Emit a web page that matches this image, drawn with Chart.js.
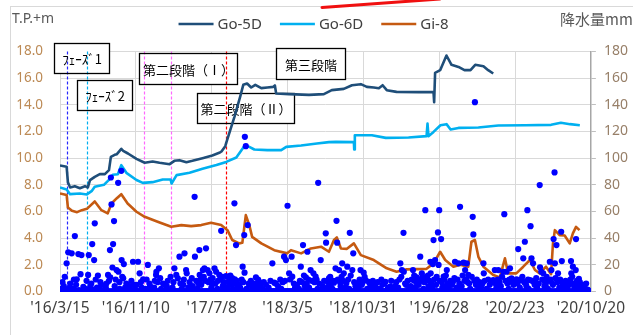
<!DOCTYPE html>
<html>
<head>
<meta charset="utf-8">
<script src="https://cdn.jsdelivr.net/npm/chart.js@4.4.0/dist/chart.umd.min.js"></script>
<style>
  html, body { margin: 0; padding: 0; background: #fff; }
</style>
</head>
<body>
<canvas id="chart" width="633" height="335"></canvas>
<script>
// x values are days counted from 2016-03-15, one tick every 240 days
const dayStep = 240;
const dateTicks = ["'16/3/15", "'16/11/10", "'17/7/8", "'18/3/5", "'18/10/31", "'19/6/28", "'20/2/23", "'20/10/20"];

// Groundwater level, T.P.+m  [day, level]
const go5d = [[0,9.45],[21,9.35],[25,8.2],[32,7.8],[47,7.9],[63,7.75],[79,7.9],[88,7.8],[95,8.35],[110,8.6],[126,8.8],[142,8.8],[155,9.1],[161,10.1],[173,10.25],[180,10.3],[194,10.7],[200,10.55],[215,10.35],[242,9.95],[268,9.66],[293,9.75],[315,9.65],[347,9.55],[362,9.8],[378,9.85],[400,9.7],[419,9.8],[451,10.0],[482,10.2],[504,10.4],[511,10.5],[523,10.9],[526,11.15],[552,13.1],[570,14.6],[580,15.5],[592,15.6],[605,15.3],[618,15.5],[637,15.25],[656,15.3],[675,15.35],[680,15.45],[684,14.85],[725,14.8],[788,14.75],[835,14.8],[860,15.1],[898,15.2],[924,15.47],[952,15.55],[971,15.35],[993,15.3],[1009,15.25],[1021,15.47],[1034,15.1],[1065,14.97],[1135,14.95],[1182,14.95],[1184,14.2],[1187,16.4],[1203,16.6],[1223,17.7],[1239,17.0],[1261,16.84],[1280,16.6],[1299,16.6],[1314,17.0],[1340,16.9],[1355,16.6],[1371,16.35]];
const go6d = [[0,7.8],[21,7.65],[32,7.3],[63,7.35],[85,7.28],[101,7.55],[110,7.86],[139,8.0],[158,8.45],[167,8.75],[183,8.8],[194,9.48],[210,8.9],[242,8.36],[262,8.15],[293,8.2],[325,8.4],[350,8.4],[353,8.1],[369,8.73],[410,8.9],[451,9.2],[495,9.48],[526,9.72],[558,10.05],[583,10.9],[599,10.85],[615,10.65],[656,10.6],[700,10.6],[716,10.85],[763,10.95],[813,11.1],[851,11.2],[873,11.22],[930,11.2],[931,10.65],[933,11.72],[987,11.72],[1031,11.52],[1103,11.55],[1160,11.65],[1163,12.6],[1166,11.65],[1182,11.97],[1204,12.47],[1223,12.55],[1236,12.15],[1261,12.27],[1324,12.3],[1387,12.45],[1472,12.47],[1554,12.5],[1585,12.65],[1614,12.55],[1645,12.47]];
const gi8 = [[0,7.35],[21,7.23],[25,6.3],[38,6.05],[54,5.95],[69,6.1],[85,6.2],[110,6.75],[131,6.1],[151,5.86],[163,6.6],[179,6.98],[194,7.3],[214,6.6],[242,5.98],[268,5.6],[309,5.23],[352,4.85],[384,4.98],[415,4.9],[447,4.98],[478,5.15],[510,4.98],[530,4.6],[545,3.86],[567,3.61],[577,3.65],[588,5.73],[599,4.98],[608,4.1],[637,3.61],[678,3.1],[719,2.86],[731,3.1],[763,2.86],[794,3.23],[826,3.36],[851,2.98],[867,3.86],[876,4.06],[889,3.23],[908,3.2],[930,3.61],[952,2.73],[993,2.36],[1034,1.74],[1065,1.48],[1097,1.66],[1160,1.7],[1182,2.11],[1203,2.98],[1219,2.36],[1245,1.86],[1266,2.0],[1292,1.86],[1302,3.73],[1313,3.86],[1324,2.6],[1340,1.86],[1371,1.24],[1392,1.06],[1408,2.49],[1418,1.36],[1444,1.36],[1466,1.86],[1487,2.36],[1503,1.61],[1518,1.36],[1538,1.86],[1554,1.3],[1560,3.61],[1566,4.6],[1581,4.23],[1597,4.2],[1613,3.61],[1623,4.36],[1633,4.85],[1644,4.6]];

// Daily rainfall, mm  [day, mm]; days not listed had no rain
const rainEvents = [[21,21.1],[26,29.4],[37,28.6],[47,41.6],[53,9.1],[58,28.1],[68,27.3],[89,12.4],[91,27.3],[102,35.6],[108,23.6],[110,51.1],[152,12.4],[158,31.1],[159,10.6],[161,85.5],[163,65.3],[168,35.6],[171,52.8],[179,16.1],[184,81.5],[185,14.8],[194,90.5],[195,23.6],[200,9.9],[202,20.6],[231,22.3],[247,22.3],[252,13.6],[263,9.1],[278,19.9],[304,12.4],[305,14.8],[313,17.4],[331,5.6],[362,17.4],[368,12.4],[373,9.9],[378,26.1],[394,28.6],[399,16.1],[401,13.6],[426,71],[427,26.1],[441,31.1],[442,12.4],[452,16.1],[457,17.4],[462,32.4],[467,16.1],[473,13.6],[489,17.4],[494,14.8],[504,12.4],[510,45.5],[525,11.6],[536,8.6],[545,10.1],[552,66.1],[553,9.1],[557,34.8],[578,18.6],[583,42.3],[584,14.1],[585,116],[588,109],[594,49.8],[620,10.6],[630,7.3],[672,21.1],[678,6.6],[709,26.1],[715,23.6],[720,64.3],[725,13.6],[733,26.1],[735,11.1],[762,18.6],[769,34.8],[778,10.6],[783,29.8],[793,16.1],[802,13.6],[809,11.1],[817,81.5],[825,23.6],[841,43.6],[842,36.6],[851,9.9],[867,6.6],[872,17.4],[875,53],[877,36.6],[883,16.1],[893,21.1],[898,13.6],[909,18.6],[917,44],[925,16.1],[928,28.6],[951,16.1],[961,14.1],[967,8.6],[977,7.3],[993,6.1],[1030,7.3],[1045,3.6],[1077,21.1],[1082,16.1],[1087,44],[1088,14.8],[1117,16.1],[1119,8.6],[1129,10.6],[1140,26.1],[1145,13.6],[1156,61],[1161,9.9],[1172,22.3],[1173,13.6],[1180,20.6],[1182,38.6],[1187,23.6],[1196,44.3],[1198,19.9],[1200,61],[1206,39.3],[1214,11.1],[1224,16.1],[1250,22.3],[1261,21.1],[1266,63.5],[1277,21.6],[1282,16.1],[1287,21.1],[1292,12.4],[1306,56],[1308,42.8],[1313,142],[1340,21.1],[1341,13.6],[1371,8.6],[1376,16.1],[1387,16.1],[1403,14.8],[1406,58],[1413,14.8],[1424,17.4],[1429,9.9],[1445,9.1],[1450,31.8],[1460,8.6],[1466,24.9],[1471,37.3],[1479,61],[1487,8.6],[1489,49],[1492,24.9],[1497,21.1],[1518,79.8],[1519,18.1],[1523,14.8],[1529,13.6],[1537,4.9],[1550,22.3],[1555,16.1],[1562,39.3],[1565,89.3],[1566,21.1],[1571,34.8],[1576,13.6],[1586,44.8],[1588,22.8],[1597,3.6],[1617,22.8],[1618,13.6],[1623,18.6],[1632,16.1],[1633,39.3],[1642,9.4]];
const rainLight = [[5,2],[12,4],[17,1.5],[30,3],[42,2],[51,5],[60,1],[74,3.5],[80,2],[96,4],[104,1.5],[117,3],[124,2.5],[131,5],[138,1],[145,3],[173,4],[189,2],[206,3],[214,1.5],[221,4],[237,2],[242,5],[258,3],[270,2],[285,4],[292,1.5],[298,3],[320,2],[338,4],[345,1],[356,3],[385,2],[390,5],[406,3],[414,1.5],[420,4],[435,2],[447,5],[479,3],[484,6],[498,2],[515,4],[520,7],[530,3],[541,5],[548,2],[563,4],[570,3],[590,2],[600,5],[611,3],[625,4],[640,2],[652,5],[660,3],[690,4],[700,2],[744,3],[750,5],[756,2],[775,4],[788,3],[815,2],[831,4],[846,3],[857,5],[862,2],[888,4],[903,3],[915,2],[935,4],[944,3],[955,5],[972,2],[985,4],[1000,3],[1012,2],[1020,5],[1038,3],[1052,2],[1060,4],[1070,3],[1095,5],[1105,2],[1110,4],[1124,3],[1135,5],[1150,2],[1166,4],[1177,3],[1190,5],[1210,3],[1219,4],[1230,2],[1240,5],[1255,3],[1271,4],[1298,2],[1316,5],[1325,3],[1333,4],[1350,2],[1360,5],[1381,3],[1395,4],[1420,2],[1435,5],[1455,3],[1476,4],[1483,2],[1502,5],[1510,3],[1533,4],[1544,2],[1560,5],[1580,3],[1592,4],[1605,2],[1612,5],[1628,3],[1638,4],[1650,2],[1660,3],[1670,1.5]];
const rainModerate = [[8,7],[15,11],[33,6],[44,9],[65,13],[84,8],[99,6],[113,9],[120,12],[128,7],[147,6],[155,8],[166,18],[176,9],[188,7],[197,11],[210,6],[226,8],[235,5],[256,7],[274,9],[283,6],[300,8],[309,7],[317,10],[326,6],[341,8],[350,11],[359,7],[381,6],[392,9],[410,7],[417,10],[431,8],[438,6],[445,9],[455,11],[460,8],[470,7],[476,9],[483,10],[492,6],[500,8],[507,9],[513,11],[518,6],[533,7],[539,12],[550,6],[560,8],[566,5],[575,9],[580,7],[597,6],[604,8],[616,6],[627,9],[635,5],[645,7],[666,8],[683,6],[697,9],[705,7],[712,8],[728,9],[740,6],[759,8],[766,7],[772,12],[781,6],[786,9],[797,8],[805,7],[812,9],[820,6],[836,8],[848,7],[855,11],[865,8],[879,9],[886,7],[891,11],[896,8],[906,6],[912,9],[920,12],[931,7],[940,6],[948,9],[958,7],[964,11],[980,6],[990,8],[1005,7],[1017,9],[1025,6],[1048,8],[1064,7],[1074,9],[1080,11],[1092,6],[1100,8],[1113,9],[1121,12],[1127,7],[1133,6],[1138,9],[1143,8],[1148,11],[1153,7],[1158,9],[1164,12],[1169,8],[1175,6],[1184,9],[1192,11],[1202,8],[1208,7],[1216,9],[1221,12],[1227,6],[1235,8],[1243,7],[1248,10],[1258,9],[1264,6],[1274,12],[1280,8],[1285,9],[1290,7],[1295,6],[1303,11],[1311,8],[1319,9],[1328,7],[1337,6],[1344,8],[1355,9],[1365,7],[1378,6],[1385,9],[1391,7],[1399,11],[1410,8],[1416,6],[1422,9],[1432,7],[1441,8],[1448,6],[1458,9],[1463,11],[1469,7],[1474,6],[1481,9],[1494,8],[1500,7],[1507,10],[1515,6],[1526,9],[1535,7],[1540,11],[1547,8],[1553,9],[1558,6],[1568,10],[1574,7],[1583,9],[1590,6],[1600,8],[1608,7],[1615,9],[1621,11],[1626,6],[1636,8],[1645,7],[1655,5],[1665,6]];
const rainLastDay = 1678;

// Construction stage markers (day) and their label boxes (day / level corners)
const stageLines = [
  { day: 21, color: '#2828FF' },
  { day: 87, color: '#00B0F0' },
  { day: 266, color: '#FF66FF' },
  { day: 352, color: '#FF66FF' },
  { day: 525, color: '#FF0000' }
];
const stageBoxes = [
  { text: 'ﾌｪｰｽﾞ1', x1: -19, x2: 156, y1: 18.64, y2: 16.39 },
  { text: 'ﾌｪｰｽﾞ2', x1: 54, x2: 227, y1: 15.86, y2: 13.58 },
  { text: '第二段階（Ⅰ）', x1: 251, x2: 561, y1: 17.85, y2: 15.56 },
  { text: '第二段階（Ⅱ）', x1: 432, x2: 741, y1: 14.89, y2: 12.64 },
  { text: '第三段階', x1: 684, x2: 901, y1: 18.23, y2: 15.94 }
];

const series = [
  { label: 'Go-5D', data: go5d, color: '#1F4E79' },
  { label: 'Go-6D', data: go6d, color: '#00B0F0' },
  { label: 'Gi-8', data: gi8, color: '#C55A11' }
];

const toXY = rows => rows.map(([x, y]) => ({ x, y }));

// every dry day is plotted at 0 mm
const allRain = rainEvents.concat(rainLight, rainModerate);
const wetDays = new Set(allRain.map(r => r[0]));
const rainPoints = toXY(allRain);
for (let d = 0; d <= rainLastDay; d++) {
    if (!wetDays.has(d)) rainPoints.push({ x: d, y: 0 });
}

const jpFont = '"Noto Sans CJK JP", "Noto Sans", sans-serif';

const decorations = {
    id: 'decorations',
    beforeDraw(chart) {
        const ctx = chart.ctx;
        ctx.save();
        ctx.fillStyle = '#fff';
        ctx.fillRect(0, 0, chart.width, chart.height);
        // outer frame, only top and left edges fall inside the canvas
        ctx.strokeStyle = '#D9D9D9';
        ctx.lineWidth = 1;
        ctx.strokeRect(10.5, 6.5, chart.width + 20, chart.height + 20);

        // red pen stroke along the top edge
        ctx.strokeStyle = '#F01010';
        ctx.lineWidth = 3;
        ctx.lineCap = 'round';
        ctx.beginPath();
        ctx.moveTo(322, 7.5);
        ctx.lineTo(440, -1);
        ctx.stroke();

        // axis titles
        ctx.fillStyle = '#595959';
        ctx.textBaseline = 'middle';
        ctx.font = '14px "Noto Sans", sans-serif';
        ctx.textAlign = 'left';
        ctx.fillText('T.P.+m', 12, 19);
        ctx.font = '15px ' + jpFont;
        ctx.fillText('降水量mm', 560, 19);

        // legend for the three level series
        ctx.font = '15px "Noto Sans", sans-serif';
        const lineLen = 35, gap = 4, itemGap = 18;
        const items = series.map(s => ({ s, w: lineLen + gap + ctx.measureText(s.label).width }));
        const total = items.reduce((a, it) => a + it.w, 0) + itemGap * (items.length - 1);
        let x = chart.width / 2 - total / 2 - 3;
        const ly = 24;
        items.forEach(it => {
            ctx.strokeStyle = it.s.color;
            ctx.lineWidth = 2.5;
            ctx.lineCap = 'butt';
            ctx.beginPath();
            ctx.moveTo(x, ly);
            ctx.lineTo(x + lineLen, ly);
            ctx.stroke();
            ctx.fillStyle = '#404040';
            ctx.fillText(it.s.label, x + lineLen + gap, ly + 0.5);
            x += it.w + itemGap;
        });
        ctx.restore();
    },
    beforeDatasetsDraw(chart) {
        const ctx = chart.ctx;
        const xs = chart.scales.x, ys = chart.scales.yLevel;
        const area = chart.chartArea;
        ctx.save();
        const rects = stageBoxes.map(b => {
            const l = Math.round(xs.getPixelForValue(b.x1)) + 0.5;
            const r = Math.round(xs.getPixelForValue(b.x2)) + 0.5;
            const t = Math.round(ys.getPixelForValue(b.y1)) + 0.5;
            const btm = Math.round(ys.getPixelForValue(b.y2)) + 0.5;
            return { b, l, r, t, btm };
        });
        ctx.fillStyle = '#fff';
        rects.forEach(o => ctx.fillRect(o.l, o.t, o.r - o.l, o.btm - o.t));

        ctx.lineWidth = 1.2;
        ctx.setLineDash([3, 2]);
        stageLines.forEach(s => {
            const px = Math.round(xs.getPixelForValue(s.day)) + 0.5;
            ctx.strokeStyle = s.color;
            ctx.beginPath();
            ctx.moveTo(px, area.top);
            ctx.lineTo(px, area.bottom);
            ctx.stroke();
        });
        ctx.setLineDash([]);

        ctx.strokeStyle = '#000';
        ctx.lineWidth = 1.3;
        ctx.fillStyle = '#000';
        ctx.font = '13px ' + jpFont;
        ctx.textAlign = 'center';
        ctx.textBaseline = 'middle';
        rects.forEach(o => {
            ctx.strokeRect(o.l, o.t, o.r - o.l, o.btm - o.t);
            ctx.fillText(o.b.text, (o.l + o.r) / 2, (o.t + o.btm) / 2 + 1);
        });
        ctx.restore();
    }
};

Chart.defaults.font.family = '"Noto Sans", sans-serif';

const datasets = [{
    type: 'scatter',
    label: '降水量',
    data: rainPoints,
    yAxisID: 'yRain',
    backgroundColor: '#0000FF',
    borderWidth: 0,
    pointRadius: 3.1,
    order: 0
}].concat(series.map(s => ({
    type: 'line',
    label: s.label,
    data: toXY(s.data),
    yAxisID: 'yLevel',
    borderColor: s.color,
    borderWidth: 2.6,
    borderJoinStyle: 'round',
    pointRadius: 0,
    tension: 0,
    fill: false,
    order: 1
})));

new Chart(document.getElementById('chart').getContext('2d'), {
    data: { datasets },
    options: {
        responsive: false,
        animation: false,
        layout: { padding: { top: 51.5, left: 0, right: 0, bottom: 0 } },
        plugins: {
            legend: { display: false },
            tooltip: { enabled: false }
        },
        scales: {
            x: {
                type: 'linear',
                position: 'bottom',
                min: 0,
                max: dayStep * (dateTicks.length - 1),
                afterFit: s => { s.height = 43.5; },
                ticks: {
                    stepSize: dayStep,
                    autoSkip: false,
                    maxRotation: 0,
                    padding: 8,
                    color: '#404040',
                    font: { size: 15.5 },
                    callback: (v, i) => dateTicks[i]
                },
                grid: { color: '#D9D9D9', drawTicks: false },
                border: { color: '#D9D9D9' }
            },
            yLevel: {
                position: 'left',
                min: 0,
                max: 18,
                afterFit: s => { s.width = 60; },
                ticks: {
                    stepSize: 2,
                    padding: 17,
                    color: '#BC8A55',
                    font: { size: 13.5 },
                    callback: v => v.toFixed(1)
                },
                grid: { color: '#D9D9D9', drawTicks: false },
                border: { display: false }
            },
            yRain: {
                position: 'right',
                min: 0,
                max: 180,
                afterFit: s => { s.width = 40; },
                ticks: {
                    stepSize: 20,
                    padding: 8,
                    color: '#977F68',
                    font: { size: 14 }
                },
                grid: { drawOnChartArea: false, tickLength: 5, color: '#BFBFBF' },
                border: { color: '#A6A6A6', width: 1.5 }
            }
        }
    },
    plugins: [decorations]
});
</script>
</body>
</html>
